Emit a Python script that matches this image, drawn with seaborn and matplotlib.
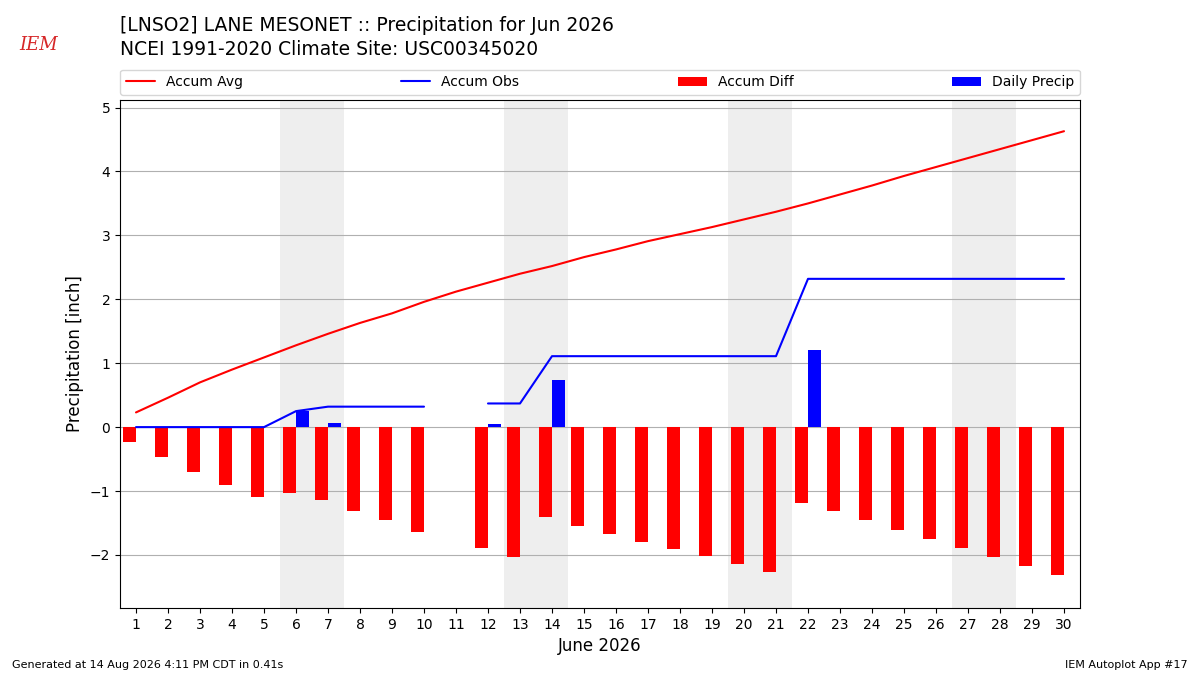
import numpy as np
import pandas as pd
import matplotlib
matplotlib.use('Agg')
import matplotlib.pyplot as plt
import seaborn as sns

days = list(range(1, 31))
accum_avg = [0.23, 0.46, 0.70, 0.90, 1.09, 1.28, 1.46, 1.63, 1.78, 1.96,
             2.12, 2.26, 2.40, 2.52, 2.66, 2.78, 2.91, 3.02, 3.13, 3.25,
             3.37, 3.50, 3.64, 3.78, 3.93, 4.07, 4.21, 4.35, 4.49, 4.63]
accum_obs = [0, 0, 0, 0, 0, 0.25, 0.32, 0.32, 0.32, 0.32,
             np.nan, 0.37, 0.37, 1.11, 1.11, 1.11, 1.11, 1.11, 1.11, 1.11,
             1.11, 2.32, 2.32, 2.32, 2.32, 2.32, 2.32, 2.32, 2.32, 2.32]
accum_diff = [-0.23, -0.46, -0.70, -0.90, -1.09, -1.03, -1.14, -1.31, -1.46, -1.64,
              np.nan, -1.89, -2.03, -1.41, -1.55, -1.67, -1.80, -1.91, -2.02, -2.14,
              -2.26, -1.18, -1.32, -1.46, -1.61, -1.75, -1.89, -2.03, -2.17, -2.31]
daily_precip = [0, 0, 0, 0, 0, 0.25, 0.07, 0, 0, 0,
                0, 0.05, 0, 0.74, 0, 0, 0, 0, 0, 0,
                0, 1.21, 0, 0, 0, 0, 0, 0, 0, 0]
weekend_days = [6, 7, 13, 14, 20, 21, 27, 28]

df = pd.DataFrame({'day': days, 'avg': accum_avg, 'obs': accum_obs,
                   'diff': accum_diff, 'daily': daily_precip})

sns.set_style('ticks', rc={'axes.edgecolor': 'black', 'xtick.color': 'black',
                           'ytick.color': 'black', 'text.color': 'black',
                           'axes.labelcolor': 'black'})
plt.rcParams['font.family'] = ['DejaVu Sans']

fig = plt.figure(figsize=(12, 6.75), dpi=100)
ax = fig.add_axes([0.1, 0.0993, 0.8, 0.7527])

# weekends shaded
for d in weekend_days:
    ax.axvspan(d - 0.5, d + 0.5, color='#eeeeee', zorder=0, lw=0)

ax.grid(True, axis='y', color='#b0b0b0', lw=0.8, zorder=1)
ax.set_axisbelow(True)

sns.lineplot(data=df, x='day', y='avg', color='red', lw=1.5, ax=ax,
             label='Accum Avg', zorder=3)
ax.plot(df['day'], df['obs'], color='blue', lw=1.5, label='Accum Obs', zorder=3)
ax.bar(df['day'], df['diff'], width=-0.4, align='edge', color='red',
       linewidth=0, label='Accum Diff', zorder=2)
ax.bar(df['day'], df['daily'], width=0.4, align='edge', color='blue',
       linewidth=0, label='Daily Precip', zorder=2)

ax.set_xlim(0.5, 30.5)
ax.set_ylim(-2.83, 5.12)
ax.set_xticks(days)
ax.set_yticks(range(-2, 6))
ax.tick_params(labelsize=10)
ax.set_xlabel('June 2026', fontsize=12)
ax.set_ylabel('Precipitation [inch]', fontsize=12)

ax.legend(loc='lower left', bbox_to_anchor=(0, 1.01, 1, 0.05), mode='expand',
          ncol=4, fontsize=10, borderaxespad=0, frameon=True, handlelength=2.1)

fig.text(0.1, 0.962, '[LNSO2] LANE MESONET :: Precipitation for Jun 2026',
         fontsize=13.5, va='center')
fig.text(0.1, 0.927, 'NCEI 1991-2020 Climate Site: USC00345020',
         fontsize=13.5, va='center')
fig.text(0.032, 0.933, 'IEM', color='#d62728', fontsize=13, style='italic',
         family='serif', ha='center', va='center')
fig.text(0.01, 0.01, 'Generated at 14 Aug 2026 4:11 PM CDT in 0.41s', fontsize=8)
fig.text(0.99, 0.01, 'IEM Autoplot App #17', fontsize=8, ha='right')

fig.savefig('out.png', dpi=100)
